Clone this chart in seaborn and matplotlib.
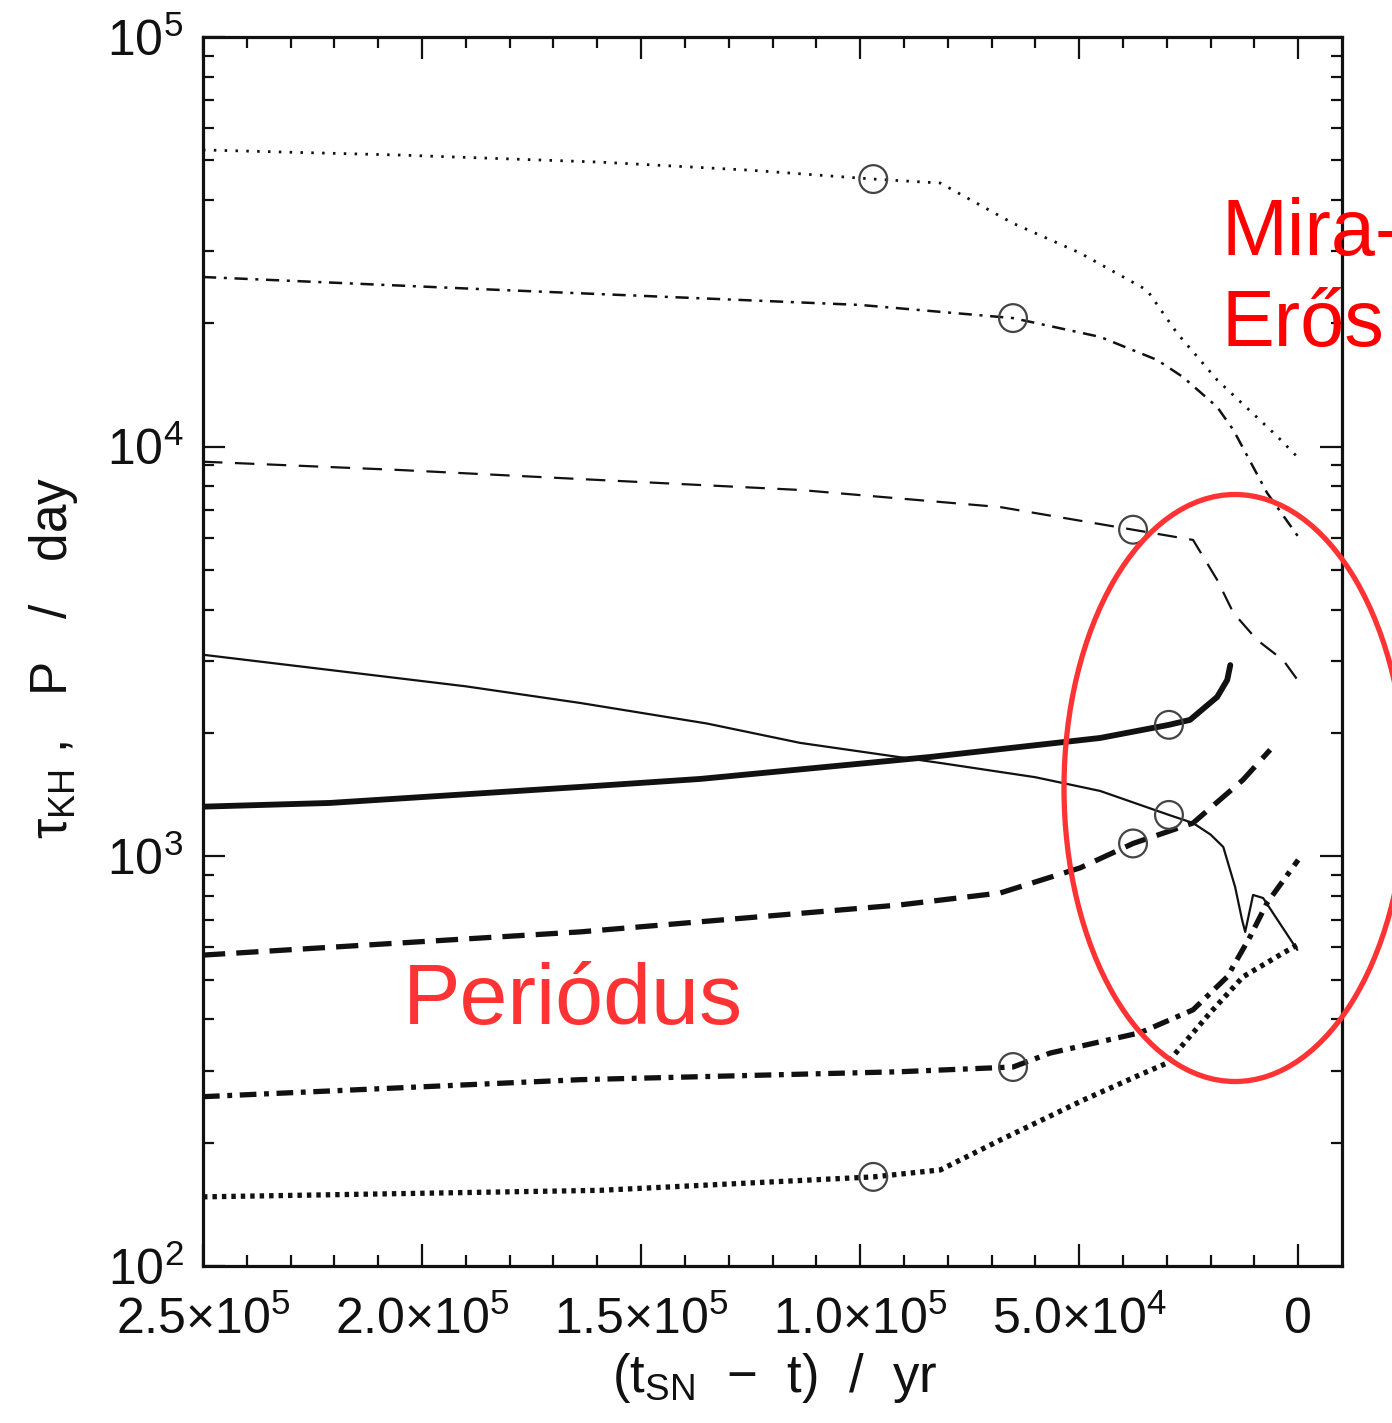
import numpy as np
import matplotlib
matplotlib.use("Agg")
import matplotlib.pyplot as plt
from matplotlib.patches import Ellipse
from matplotlib.ticker import FixedLocator, LogLocator, NullFormatter
import seaborn as sns

# time before supernova (yr) and timescales (day) for four model stars
# thin curves: Kelvin-Helmholtz timescale, thick curves: pulsation period
t_kh_m1 = [250000, 205000, 159400, 125100, 97000, 81700, 65100, 49800, 34500, 27600, 18500, 4800, 200]
kh_m1 = [53000, 51500, 49500, 47300, 45000, 44000, 35100, 29700, 24100, 18900, 14550, 10600, 9440]

t_kh_m2 = [250000, 182200, 100000, 65100, 45200, 32200, 26300, 18500, 14800, 7100, 0]
kh_m2 = [25950, 24130, 22180, 20600, 18530, 16280, 14790, 12500, 10985, 7710, 6030]

t_kh_m3 = [250000, 205000, 159400, 113700, 68000, 37700, 24000, 18500, 14800, 9400, 3400, 200]
kh_m3 = [9190, 8770, 8290, 7840, 7120, 6270, 5920, 4730, 3930, 3375, 3010, 2700]

t_kh_m4 = [250000, 221000, 190000, 163900, 135000, 113700, 81700, 60000, 45200, 29500, 24000,
           20000, 17100, 14400, 12800, 12100, 10300, 8000, 200]
kh_m4 = [3105, 2850, 2600, 2368, 2110, 1892, 1690, 1560, 1444, 1262, 1206,
         1130, 1054, 842, 699, 654, 805, 791, 591]

t_p_m1 = [250000, 159400, 97000, 81700, 68000, 49100, 36100, 29900, 20100, 12600, 3400, 200]
p_m1 = [147.5, 153, 165, 171.6, 203, 254, 293, 313, 415, 508, 581, 608]

t_p_m2 = [250000, 163900, 90900, 65100, 56600, 36100, 24000, 16200, 11000, 7100, 0]
p_m2 = [259, 285, 298, 306, 331, 371, 422, 508, 636, 770, 980]

t_p_m3 = [250000, 163900, 90900, 68000, 49800, 37700, 24000, 12600, 6400]
p_m3 = [574, 654, 761, 814, 937, 1075, 1206, 1537, 1820]

t_p_m4 = [250000, 221000, 163900, 136500, 84000, 45200, 29500, 24700, 18500, 16200, 15500]
p_m4 = [1322, 1350, 1477, 1545, 1748, 1945, 2094, 2153, 2449, 2695, 2930]

# open-circle markers on each model
mark_t = [97000, 65100, 37700, 29500]
mark_kh = [45000, 20600, 6270, 1262]
mark_p = [165, 306, 1075, 2094]

x_major = [250000, 200000, 150000, 100000, 50000, 0]
x_major_labels = [r"$2.5{\times}10^{5}$", r"$2.0{\times}10^{5}$", r"$1.5{\times}10^{5}$",
                  r"$1.0{\times}10^{5}$", r"$5.0{\times}10^{4}$", "0"]
y_major = [1e2, 1e3, 1e4, 1e5]
y_major_labels = [r"$10^{2}$", r"$10^{3}$", r"$10^{4}$", r"$10^{5}$"]

sns.set_style("ticks")
plt.rcParams["font.family"] = ["Liberation Sans", "DejaVu Sans"]
plt.rcParams["mathtext.fontset"] = "custom"
plt.rcParams["mathtext.rm"] = "Liberation Sans"
plt.rcParams["mathtext.it"] = "Liberation Sans:italic"
plt.rcParams["mathtext.bf"] = "Liberation Sans:bold"
plt.rcParams["mathtext.sf"] = "Liberation Sans"
plt.rcParams["mathtext.default"] = "regular"
plt.rcParams["lines.scale_dashes"] = False

W, H = 1392, 1423
fig = plt.figure(figsize=(W / 100, H / 100), dpi=100)
ax = fig.add_axes([203 / W, 1 - 1266 / H, (1342 - 203) / W, (1266 - 37) / H])

ink = "#111111"
thin = 1.6
thick = 3.8
series = [
    (t_kh_m1, kh_m1, 2.0, (0, (1.8, 6.0))),
    (t_kh_m2, kh_m2, 1.8, (0, (9.5, 5.5, 2.2, 5.5))),
    (t_kh_m3, kh_m3, thin, (0, (14, 9))),
    (t_kh_m4, kh_m4, thin, "-"),
    (t_p_m1, p_m1, thick, (0, (3.2, 3.6))),
    (t_p_m2, p_m2, thick, (0, (12, 5.5, 3.5, 5.5))),
    (t_p_m3, p_m3, thick, (0, (16, 8))),
    (t_p_m4, p_m4, thick + 0.4, "-"),
]
for tx, vals, lw, ls in series:
    sns.lineplot(x=tx, y=vals, ax=ax, color=ink, lw=lw, linestyle=ls,
                 sort=False, estimator=None)

for vals in (mark_kh, mark_p):
    sns.scatterplot(x=mark_t, y=vals, ax=ax, marker="o", s=400,
                    facecolors="none", edgecolors="#444444", linewidth=1.6, zorder=5)

ax.set_yscale("log")
ax.set_xlim(250000, -10000)
ax.set_ylim(100, 1e5)

ax.set_xticks(x_major, x_major_labels)
ax.xaxis.set_minor_locator(FixedLocator(np.arange(0, 250001, 10000)))
ax.set_yticks(y_major, y_major_labels)
ax.yaxis.set_minor_locator(LogLocator(base=10, subs=np.arange(2, 10)))
ax.yaxis.set_minor_formatter(NullFormatter())

ax.tick_params(which="both", direction="in", top=True, right=True, width=1.6,
               color="#111111", labelsize=36, labelcolor="#111111")
ax.tick_params(which="major", length=16)
ax.tick_params(which="minor", length=8)
ax.tick_params(axis="x", pad=22)
ax.tick_params(axis="y", pad=14)
for sp in ax.spines.values():
    sp.set_linewidth(2.3)
    sp.set_color("#111111")

ax.set_xlabel(r"(t$_{\rm SN}$  $-$  t)  /  yr", fontsize=38, color="#111111")
ax.set_ylabel(r"$\tau_{\rm KH}$ ,   P   /   day", fontsize=37, color="#111111")
ax.xaxis.set_label_coords(0.502, -0.069)
ax.yaxis.set_label_coords(-0.108, 0.495)
ax.xaxis.label.set_va("top")

# red annotations
red = "#ff0000"
fig.text(1222 / W, 1 - 255 / H, "Mira-", fontsize=57, color=red, va="baseline", ha="left")
fig.text(1222 / W, 1 - 346 / H, "Erős", fontsize=57, color=red, va="baseline", ha="left")
fig.text(403 / W, 1 - 1024 / H, "Periódus", fontsize=62, color="#ff3333", va="baseline", ha="left")
ell = Ellipse((1235 / W, 1 - 788 / H), 342 / W, 587 / H, transform=fig.transFigure,
              fill=False, edgecolor="#ff3333", lw=3.8, zorder=10)
fig.add_artist(ell)

fig.savefig("out.png", dpi=100)
